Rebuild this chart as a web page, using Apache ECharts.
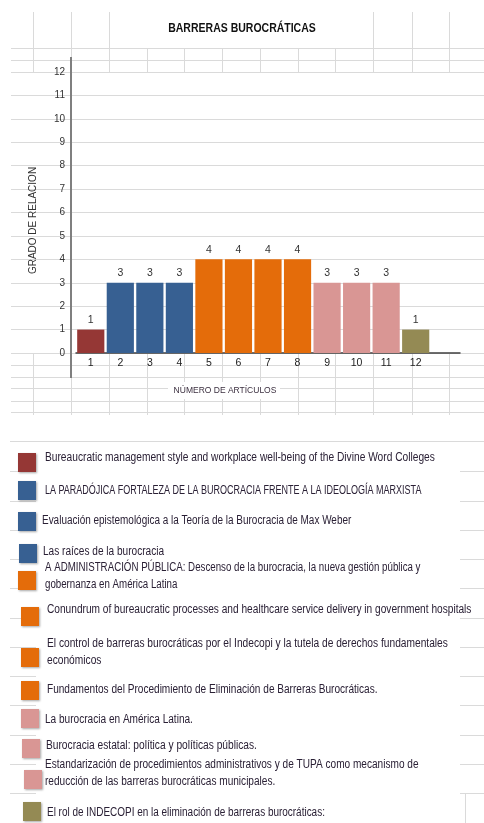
<!DOCTYPE html>
<html>
<head>
<meta charset="utf-8">
<script src="https://cdn.jsdelivr.net/npm/echarts@6/dist/echarts.min.js"></script>
<style>
html,body{margin:0;padding:0;background:#fff;}
#chart{width:484px;height:823px;}
</style>
</head>
<body>
<div id="chart"></div>
<script>
// ---- data ----
var chartTitle = 'BARRERAS BUROCRÁTICAS';
var categories = ['1','2','3','4','5','6','7','8','9','10','11','12'];
var values = [1, 3, 3, 3, 4, 4, 4, 4, 3, 3, 3, 1];
var yTicks = [0,1,2,3,4,5,6,7,8,9,10,11,12];
var articleTitles = [
  'Bureaucratic management style and workplace well-being of the Divine Word Colleges',
  'LA PARADÓJICA FORTALEZA DE LA BUROCRACIA FRENTE A LA IDEOLOGÍA MARXISTA',
  'Evaluación epistemológica a la Teoría de la Burocracia de Max Weber',
  'Las raíces de la burocracia',
  'A ADMINISTRACIÓN PÚBLICA: Descenso de la burocracia, la nueva gestión pública y\ngobernanza en América Latina',
  'Conundrum of bureaucratic processes and healthcare service delivery in government hospitals',
  'El control de barreras burocráticas por el Indecopi y la tutela de derechos fundamentales\neconómicos',
  'Fundamentos del Procedimiento de Eliminación de Barreras Burocráticas.',
  'La burocracia en América Latina.',
  'Burocracia estatal: política y políticas públicas.',
  'Estandarización de procedimientos administrativos y de TUPA como mecanismo de\nreducción de las barreras burocráticas municipales.',
  'El rol de INDECOPI en la eliminación de barreras burocráticas:'
];

// ---- styles / layout ----
var barColors = ['#953735','#376092','#376092','#376092','#e46c0a','#e46c0a','#e46c0a','#e46c0a','#d99694','#d99694','#d99694','#948a54'];
var FONT = "'Liberation Sans',Arial,sans-serif";
var GRID_LINE = '#dadada';
var legendBoxX = [18,18,18,19,18,21,21,21,21,22,24,23];
var legendBoxY = [453,481,512,544,571,607,648,681,709,739,770,802];
var legendTextX = [45,45,42,43,45,47,47,47,45,46,45,47];
var legendTextY = [458,491,521,552,576,610,652,690,720,746,773,813];
var legendScaleX = [0.85,0.75,0.83,0.84,0.81,0.845,0.85,0.84,0.84,0.85,0.84,0.83];
var cols = [33,71,109,147,184,222,260,298,335,373,412,449];

var chart = echarts.init(document.getElementById('chart'), null, {renderer:'canvas'});

var graphics = [];
function hline(x1,x2,y){ graphics.push({type:'line', z:-10, silent:true, shape:{x1:x1,y1:y,x2:x2,y2:y}, style:{stroke:GRID_LINE, lineWidth:1}}); }
function vline(x,y1,y2,color,w){ graphics.push({type:'line', z:-10, silent:true, shape:{x1:x,y1:y1,x2:x,y2:y2}, style:{stroke:color||GRID_LINE, lineWidth:w||1}}); }

// spreadsheet background: top band
hline(11,484,48.5); hline(11,484,60.5);
cols.forEach(function(x){
  var merged = (x>120 && x<360);
  vline(x+0.5, merged?48:12, 72);
});
// bottom band
[365.5,377.5,388.5,401.5,412.5].forEach(function(y){ hline(11,484,y); });
cols.forEach(function(x){ vline(x+0.5, 353, 415); });
// white box behind the x axis title
graphics.push({type:'rect', z:-9, silent:true, shape:{x:168, y:382, width:112, height:17}, style:{fill:'#fff'}});
// legend band
hline(10,484,441.5);
for (var k=1;k<=12;k++){
  var yy = Math.round(442 + 29.25*k) + 0.5;
  hline(10,36,yy); hline(460,484,yy);
}
vline(465.5,793,823);
// extension of the vertical axis line above and below the plot
graphics.push({type:'line', z:5, silent:true, shape:{x1:71,y1:57,x2:71,y2:73}, style:{stroke:'#7f7f7f', lineWidth:2}});
graphics.push({type:'line', z:5, silent:true, shape:{x1:71,y1:353,x2:71,y2:378}, style:{stroke:'#7f7f7f', lineWidth:2}});

// title (condensed bold)
graphics.push({type:'text', z:10, x:242, y:29, scaleX:0.84,
  style:{text:chartTitle, fill:'#111', font:'bold 12.5px '+FONT, textAlign:'center', verticalAlign:'middle'}});

// legend
articleTitles.forEach(function(t,i){
  graphics.push({type:'rect', z:10, shape:{x:legendBoxX[i], y:legendBoxY[i], width:18, height:19},
    style:{fill:barColors[i], shadowBlur:2, shadowOffsetX:1, shadowOffsetY:1, shadowColor:'rgba(0,0,0,0.35)'}});
  graphics.push({type:'text', z:10, x:legendTextX[i], y:legendTextY[i], scaleX:legendScaleX[i],
    style:{text:t, fill:'#2a2035', font:'12px '+FONT, verticalAlign:'middle', lineHeight:17.5}});
});

var option = {
  animation:false,
  backgroundColor:'#ffffff',
  grid:[
    {left:76, right:24, top:72, bottom:470},
    {left:11, right:0, top:72, bottom:470}
  ],
  xAxis:[
    {
      type:'category', gridIndex:0, data:categories.concat(['']),
      axisLine:{lineStyle:{color:'#3f3f3f', width:1.5}},
      axisTick:{show:false},
      axisLabel:{fontSize:10.5, color:'#222', margin:5, fontFamily:FONT},
      name:'NÚMERO DE ARTÍCULOS', nameLocation:'middle', nameGap:31,
      nameTextStyle:{fontFamily:FONT, fontSize:8.5, color:'#3b2f3f', padding:[2,88,2,2]}
    },
    {type:'value', gridIndex:1, show:false, min:0, max:1}
  ],
  yAxis:[
    {
      type:'value', gridIndex:0, min:0, max:12, interval:1, offset:5,
      axisLine:{show:true, lineStyle:{color:'#7f7f7f', width:2}},
      axisTick:{show:false},
      splitLine:{show:false},
      axisLabel:{fontSize:10, color:'#333', margin:6, fontFamily:FONT,
        formatter:function(v){ return yTicks.indexOf(v)>=0 ? String(v) : ''; }},
      name:'GRADO DE RELACION', nameLocation:'middle', nameGap:33, nameRotate:90,
      nameTextStyle:{fontFamily:FONT, fontSize:10, color:'#333', padding:[0,16,0,0]}
    },
    {
      type:'value', gridIndex:1, min:0, max:12, interval:1,
      axisLine:{show:false}, axisTick:{show:false}, axisLabel:{show:false},
      splitLine:{show:true, lineStyle:{color:GRID_LINE, width:1}}, z:-5
    }
  ],
  series:[{
    type:'bar', xAxisIndex:0, yAxisIndex:0,
    data: values.map(function(v,i){ return {value:v, itemStyle:{color:barColors[i]}}; }),
    barCategoryGap:'8%',
    label:{show:true, position:'top', distance:4, fontSize:10.5, color:'#333', fontFamily:FONT}
  }],
  graphic: graphics
};
chart.setOption(option);
</script>
</body>
</html>
